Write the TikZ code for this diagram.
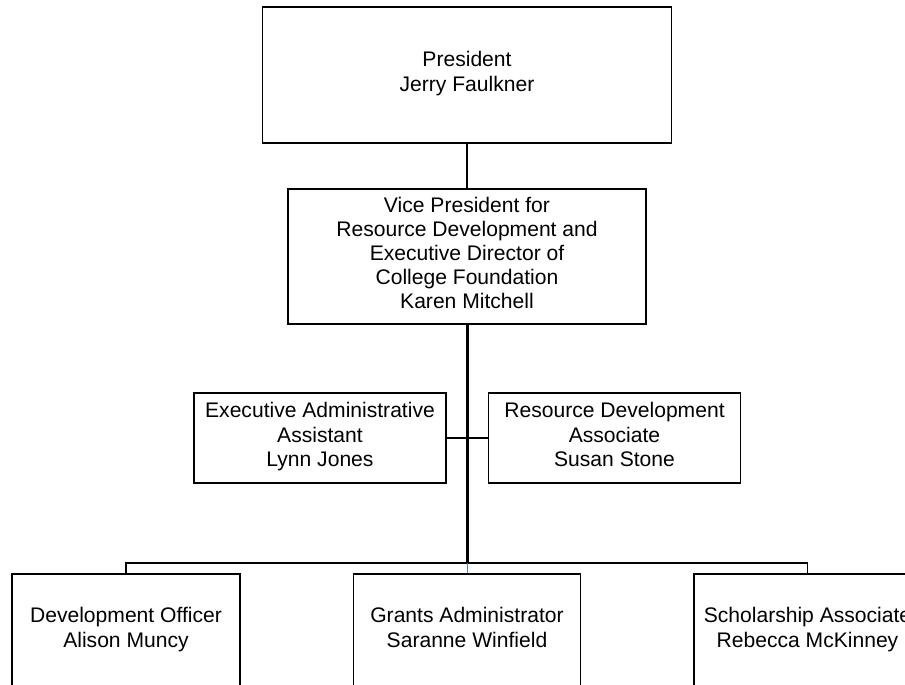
\documentclass[tikz,border=0pt]{standalone}
\usepackage{fontspec}
\setmainfont{Liberation Sans}
\usetikzlibrary{positioning}
\definecolor{linkBlue}{RGB}{79,129,189}
\tikzset{
  post/.style={draw, line width=0.85pt, align=center, inner sep=2pt,
               execute at begin node=\strut, execute at end node=\strut},
  boxsize/.style 2 args={minimum width=#1*0.02cm, minimum height=#2*0.02cm},
  link/.style={line width=0.85pt},
  trunk/.style={line width=1.7pt},
}

\begin{document}
\begin{tikzpicture}[x=0.02cm, y=-0.02cm, font=\fontsize{12}{13.8}\selectfont]
  % page frame (pixel units, y down)
  \useasboundingbox (0,0) rectangle (905,685);
  \clip (0,0) rectangle (905,685);
  % top of the chart
  \node[post, boxsize={409}{136}] (pres) at (467,75)
    {President\\Jerry Faulkner};
  \node[post, boxsize={358}{135}] (vp) at (467,256.5)
    {Vice President for\\Resource Development and\\Executive Director of\\
     College Foundation\\Karen Mitchell};
  % staff beside the trunk
  \node[post, boxsize={252}{90}] (asst) at (320,438)
    {Executive Administrative\\Assistant\\Lynn Jones};
  \node[post, boxsize={252}{90}] (rda) at (614.5,438)
    {Resource Development\\Associate\\Susan Stone};
  % direct reports, cut off by the page edge
  \node[post, boxsize={228}{114}] (dev) at (126,631)
    {Development Officer\\Alison Muncy};
  \node[post, boxsize={227}{114}] (grants) at (467,631)
    {Grants Administrator\\Saranne Winfield};
  \node[post, boxsize={227}{114}] (schol) at (807.5,631)
    {Scholarship Associate\\Rebecca McKinney};
  \coordinate (bus) at (467,563);
  % connectors
  \draw[link] (pres.south) -- (vp.north);
  \draw[trunk] (vp.south) -- (bus);
  \draw[link] (asst.east) -- (rda.west);
  \draw[line width=1.1pt] (dev.north) |- (bus) -| (schol.north);
  \draw[linkBlue, thin] (bus) -- (grants.north);
\end{tikzpicture}
\end{document}
